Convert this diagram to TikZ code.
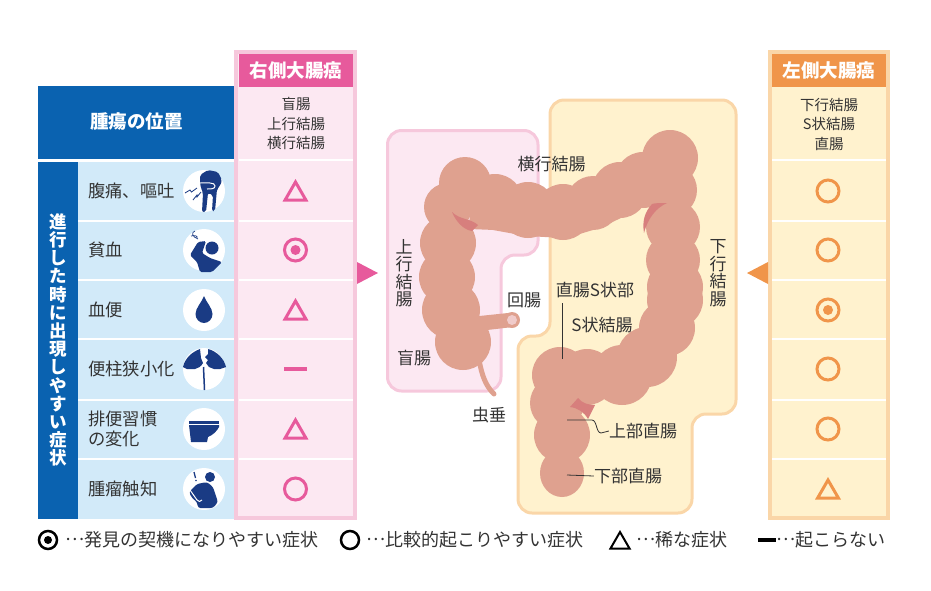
\documentclass[tikz,border=0pt]{standalone}
\usepackage{fontspec}
\usepackage{xcolor}
\usetikzlibrary{shapes.geometric}
\setmainfont{Noto Sans CJK JP}
\definecolor{tableblue}{HTML}{0A62B0}
\definecolor{rowblue}{HTML}{D2EAF9}
\definecolor{pinkdeep}{HTML}{E75A9C}
\definecolor{pinkpale}{HTML}{FCE8F2}
\definecolor{pinkedge}{HTML}{F6C8DC}
\definecolor{orangedeep}{HTML}{F0954A}
\definecolor{yellowpale}{HTML}{FFF2CE}
\definecolor{orangeedge}{HTML}{FAD6A8}
\definecolor{colon}{HTML}{DFA18F}
\definecolor{colonfold}{HTML}{D77F7D}
\definecolor{iconnavy}{HTML}{1A3B84}
\definecolor{inktext}{HTML}{333333}
\newcommand{\keydots}{\makebox[1em]{\raisebox{.33em}{…}}}
\tikzset{
  rowlabel/.style={anchor=west, inner sep=0pt, text=inktext, align=left, font=\fontsize{17.3}{20}\selectfont},
  collabel/.style={inner sep=0pt, text=inktext, align=center, font=\fontsize{14.5}{19.5}\selectfont},
  partlabel/.style={inner sep=0pt, text=inktext, align=center, font=\fontsize{17}{20}\selectfont},
  partvert/.style={inner sep=0pt, text=inktext, align=center, font=\fontsize{17}{17.5}\selectfont},
  keylabel/.style={anchor=west, inner sep=0pt, text=inktext, font=\fontsize{18}{20}\selectfont},
  colhead/.style={inner sep=0pt, minimum width=114pt, minimum height=33pt, text=white, font=\fontsize{18.5}{20}\selectfont\bfseries},
  iconback/.style={circle, fill=white, inner sep=0pt, minimum size=42pt},
  symcircle/.style={circle, draw, line width=3pt, inner sep=0pt, minimum size=22pt},
  symdot/.style={circle, fill, inner sep=0pt, minimum size=10pt},
  symtri/.style={regular polygon, regular polygon sides=3, draw, line width=3pt, inner sep=0pt, minimum size=24pt},
  symdash/.style={fill, inner sep=0pt, minimum width=23pt, minimum height=4.5pt},
  rowline/.style={white, line width=2.5pt},
  leader/.style={inktext, line width=0.8pt},
  icon/.style={fill=iconnavy, draw=none}
}
\begin{document}
\begin{tikzpicture}[x=1pt, y=-1pt]
  \useasboundingbox (0,0) rectangle (931,590);

  % table on the left
  \fill[tableblue] (38,86) rectangle (235,159);
  \fill[tableblue] (38,162) rectangle (78,519);
  \fill[rowblue] (78,162) rectangle (235,519);
  \draw[rowline] (78,221) -- (235,221);
  \draw[rowline] (78,280) -- (235,280);
  \draw[rowline] (78,339) -- (235,339);
  \draw[rowline] (78,400) -- (235,400);
  \draw[rowline] (78,459) -- (235,459);
  \node[inner sep=0pt, text=white, font=\fontsize{18.5}{20}\selectfont\bfseries] (position) at (136.5,122) {腫瘍の位置};
  \node[inner sep=0pt, text=white, align=center, font=\fontsize{17.5}{18.2}\selectfont\bfseries] (symptoms) at (58,340) {進\\行\\し\\た\\時\\に\\出\\現\\し\\や\\す\\い\\症\\状};

  \node[rowlabel] (pain) at (88,191) {腹痛、嘔吐};
  \node[rowlabel] (anemia) at (88,250) {貧血};
  \node[rowlabel] (blood) at (88,310) {血便};
  \node[rowlabel] (narrow) at (88,369) {便柱狭小化};
  \node[rowlabel] (habit) at (88,429) {排便習慣\\の変化};
  \node[rowlabel] (lump) at (88,489) {腫瘤触知};

  % icons
  \node[iconback] (painicon) at (204,191) {};
  \node[iconback] (anemiaicon) at (204,250) {};
  \node[iconback] (bloodicon) at (204,310) {};
  \node[iconback] (narrowicon) at (204,369) {};
  \node[iconback] (habiticon) at (204,429) {};
  \node[iconback] (lumpicon) at (204,489) {};
  \begin{scope}[shift={(204,191)}]
    \fill[icon, rounded corners=2pt] (-4,-16) -- (4,-21) -- (14,-19) -- (18,-11) -- (16,-5) -- (13,-2) -- (11,20) -- (8,20) -- (9,4) -- (4,2) -- (2,21) -- (-2,21) -- (-1,2) -- (-3,-3) -- (-4,-8) -- cycle;
    \draw[white, line width=1pt] (-4,-8) .. controls (3,-8) and (11,-9) .. (11,-5) .. controls (11,-2) and (7,-2) .. (3,-2);
    \draw[iconnavy, line width=0.8pt] (-19,2) -- (-14,-1) -- (-12.5,1) -- (-7,-3);
    \draw[iconnavy, line width=0.8pt] (-11,9) -- (-7,4) -- (-7,6) -- (-3,1);
  \end{scope}
  \begin{scope}[shift={(204,250)}]
    \fill[icon] (8,-2) circle (6.5);
    \fill[icon, rounded corners=1.5pt] (-14,5) -- (-6,-8) -- (2,-9) -- (-2,3) -- (6,8) -- (18,12) -- (8,22) -- (-4,22) -- (-7,12) -- cycle;
    \draw[iconnavy, line width=0.7pt] (-6,-11) .. controls (-12,-13) and (-13,-18) .. (-9,-19) (-13,-14) .. controls (-9,-15) and (-6,-14) .. (-7,-12);
  \end{scope}
  \begin{scope}[shift={(204,310)}]
    \fill[icon] (0,-14) .. controls (2,-8) and (8.5,-2) .. (8.5,4) .. controls (8.5,9) and (4.5,13) .. (0,13) .. controls (-4.5,13) and (-8.5,9) .. (-8.5,4) .. controls (-8.5,-2) and (-2,-8) .. (0,-14) -- cycle;
  \end{scope}
  \begin{scope}[shift={(204,369)}]
    \fill[icon] (-21,-2) .. controls (-19,-11) and (-12,-17) .. (-4,-20) -- (-3,-11) -- (-1,-6) .. controls (-3,-2) and (-6,-1) .. (-9,0) -- (-17,0) -- cycle;
    \fill[icon] (22,-2) .. controls (20,-11) and (12,-18) .. (4,-20) -- (4,-15) -- (1,-12) -- (4,-9) -- (2,-6) -- (5,-2) -- (10,0) -- (16,0) -- cycle;
    \draw[iconnavy, line width=1.5pt] (-0.5,-2) -- (0.5,21);
  \end{scope}
  \begin{scope}[shift={(204,429)}]
    \fill[icon] (-15,-8) rectangle (15,-5.5);
    \fill[icon] (-15,-4) -- (15,-4) -- (15,-2) .. controls (13,2) and (9,6) .. (4,8) -- (3,13) -- (-13,13) -- cycle;
  \end{scope}
  \begin{scope}[shift={(204,489)}]
    \fill[icon] (6,-12) circle (5);
    \fill[icon, rounded corners=2.5pt] (-15,3) -- (-7,-5) -- (3,-7) -- (9,-2) -- (14,13) -- (9,19) -- (-6,19) -- (-7,13) -- (-12,9) -- cycle;
    \draw[white, line width=1pt] (-14,1) -- (-7,11) .. controls (-6,13) and (-3,13) .. (-2,11);
    \draw[iconnavy, line width=1.3pt] (-10,-17) -- (-8.5,-11);
    \fill[iconnavy] (-8,-8.5) circle (0.9);
  \end{scope}

  % right side column
  \draw[pinkedge, fill=pinkpale, line width=4.5pt] (236,52) rectangle (355,518);
  \node[colhead, fill=pinkdeep] (righthead) at (296,70.5) {右側大腸癌};
  \draw[rowline] (239,160) -- (353,160);
  \draw[rowline] (239,221) -- (353,221);
  \draw[rowline] (239,280) -- (353,280);
  \draw[rowline] (239,339) -- (353,339);
  \draw[rowline] (239,400) -- (353,400);
  \draw[rowline] (239,459) -- (353,459);
  \node[collabel] (rightparts) at (296,124) {盲腸\\上行結腸\\横行結腸};
  \node[symtri, draw=pinkdeep] (righttria) at (295.5,194) {};
  \node[symcircle, draw=pinkdeep] (rightcircb) at (295.5,250) {};
  \node[symdot, fill=pinkdeep] (rightdotb) at (295.5,250) {};
  \node[symtri, draw=pinkdeep] (righttric) at (295.5,313) {};
  \node[symdash, fill=pinkdeep] (rightdash) at (295.5,369) {};
  \node[symtri, draw=pinkdeep] (righttrie) at (295.5,432) {};
  \node[symcircle, draw=pinkdeep] (rightcircf) at (295.5,489) {};
  \fill[pinkdeep] (357,262) -- (378,273) -- (357,284) -- cycle;

  % left side column
  \draw[orangeedge, fill=yellowpale, line width=4.5pt] (770,52) rectangle (888,518);
  \node[colhead, fill=orangedeep] (lefthead) at (829,70.5) {左側大腸癌};
  \draw[rowline] (772,160) -- (886,160);
  \draw[rowline] (772,221) -- (886,221);
  \draw[rowline] (772,280) -- (886,280);
  \draw[rowline] (772,339) -- (886,339);
  \draw[rowline] (772,400) -- (886,400);
  \draw[rowline] (772,459) -- (886,459);
  \node[collabel] (leftparts) at (829,124) {下行結腸\\S状結腸\\直腸};
  \node[symcircle, draw=orangedeep] (leftcirca) at (828,191) {};
  \node[symcircle, draw=orangedeep] (leftcircb) at (828,250) {};
  \node[symcircle, draw=orangedeep] (leftcircc) at (828,310) {};
  \node[symdot, fill=orangedeep] (leftdotc) at (828,310) {};
  \node[symcircle, draw=orangedeep] (leftcircd) at (828,369) {};
  \node[symcircle, draw=orangedeep] (leftcirce) at (828,429) {};
  \node[symtri, draw=orangedeep] (lefttrif) at (828,492) {};
  \fill[orangedeep] (768,262) -- (747,273) -- (768,284) -- cycle;

  % regions behind the colon
  \draw[pinkedge, fill=pinkpale, line width=3pt, rounded corners=14pt]
    (387.5,130.5) -- (538,130.5) -- (538,255) -- (501,255) -- (501,391) -- (387.5,391) -- cycle;
  \draw[orangeedge, fill=yellowpale, line width=3pt, rounded corners=14pt]
    (550,100) -- (736,100) -- (736,414) -- (692,414) -- (692,513) -- (518,513) -- (518,336) -- (550,336) -- cycle;

  % colon
  \fill[colon] (470,317) -- (508,313) -- (513,327) -- (470,332) -- cycle;
  \fill[colon] (512,320) circle (8);
  \fill[pinkpale!60!colon] (512,320) circle (5);
  \draw[colon, line width=5pt, line cap=round] (479,360) .. controls (482,375) and (485,385) .. (494,394);
  \draw[colon, line width=44pt, line join=round] (470,207) -- (495,208) -- (528,214) -- (563,216) -- (593,207) -- (620,194) -- (645,178);
  \draw[colon, line width=44pt, line join=round] (665,330) -- (647,357) -- (622,375) -- (587,377) -- (560,378);
  \foreach \cx/\cy/\cr in {465/183/26, 448/207/24, 448/243/28, 447/277/28, 451/310/29, 463/342/28,
      495/202/28, 528/210/28, 563/212/28, 593/203/27, 620/190/28, 643/180/28, 670/158/28, 670/190/27,
      673/227/27, 673/260/27, 675/287/28, 675/300/28, 667/328/28, 647/357/30, 622/375/30, 587/377/28,
      560/375/28, 557/403/27, 562/435/28}
    \fill[colon] (\cx,\cy) circle (\cr);
  \fill[colon] (562,473) ellipse (22 and 24);
  \fill[colonfold] (452,212) .. controls (460,220) and (470,218) .. (478,225) -- (472,231) .. controls (464,230) and (456,222) .. (452,212) -- cycle;
  \fill[colonfold] (667,203) .. controls (660,203) and (655,203) .. (652,204) .. controls (645,212) and (642,220) .. (644,233) .. controls (648,218) and (656,208) .. (667,203) -- cycle;
  \fill[colonfold] (570,407) -- (578,398) .. controls (582,403) and (588,405) .. (595,405) -- (588,419) .. controls (584,412) and (578,408) .. (570,407) -- cycle;

  % part names
  \node[partlabel] (transverse) at (551.5,164) {横行結腸};
  \node[partvert] (ascending) at (404,273) {上\\行\\結\\腸};
  \node[partvert] (descending) at (718,273) {下\\行\\結\\腸};
  \node[partlabel] (ileum) at (524,300) {回腸};
  \node[partlabel] (rectosig) at (595,290) {直腸S状部};
  \node[partlabel] (sigmoid) at (602,325) {S状結腸};
  \node[partlabel] (cecum) at (414,358) {盲腸};
  \node[partlabel] (appendix) at (489,415) {虫垂};
  \node[partlabel] (upperrect) at (643,431) {上部直腸};
  \node[partlabel] (lowerrect) at (628,476) {下部直腸};

  \coordinate (rectosigtop) at (562,303);
  \coordinate (rectosigend) at (562,359);
  \coordinate (upperend) at (567,420);
  \coordinate (lowerend) at (567,475);
  \draw[leader] (rectosigtop) -- (rectosigend);
  \draw[leader] (upperend) -- (592,420) .. controls (597,420) and (596,433) .. (601,433) -- (upperrect.west);
  \draw[leader] (lowerend) -- (lowerrect.west);

  % legend
  \node[symcircle, draw=black, line width=2.5pt, minimum size=18pt] (keydouble) at (48,540) {};
  \node[symdot, fill=black, minimum size=8pt] (keydot) at (48,540) {};
  \node[keylabel] (keydoubletext) at (66,540) {\keydots 発見の契機になりやすい症状};
  \node[symcircle, draw=black, line width=2.5pt, minimum size=18pt] (keycircle) at (350,540) {};
  \node[keylabel] (keycircletext) at (367,540) {\keydots 比較的起こりやすい症状};
  \node[symtri, draw=black, line width=2pt, minimum size=22pt] (keytri) at (620,543) {};
  \node[keylabel] (keytritext) at (637,540) {\keydots 稀な症状};
  \node[symdash, fill=black, minimum width=18pt, minimum height=3.5pt] (keydash) at (767,540) {};
  \node[keylabel] (keydashtext) at (777,540) {\keydots 起こらない};
\end{tikzpicture}
\end{document}
